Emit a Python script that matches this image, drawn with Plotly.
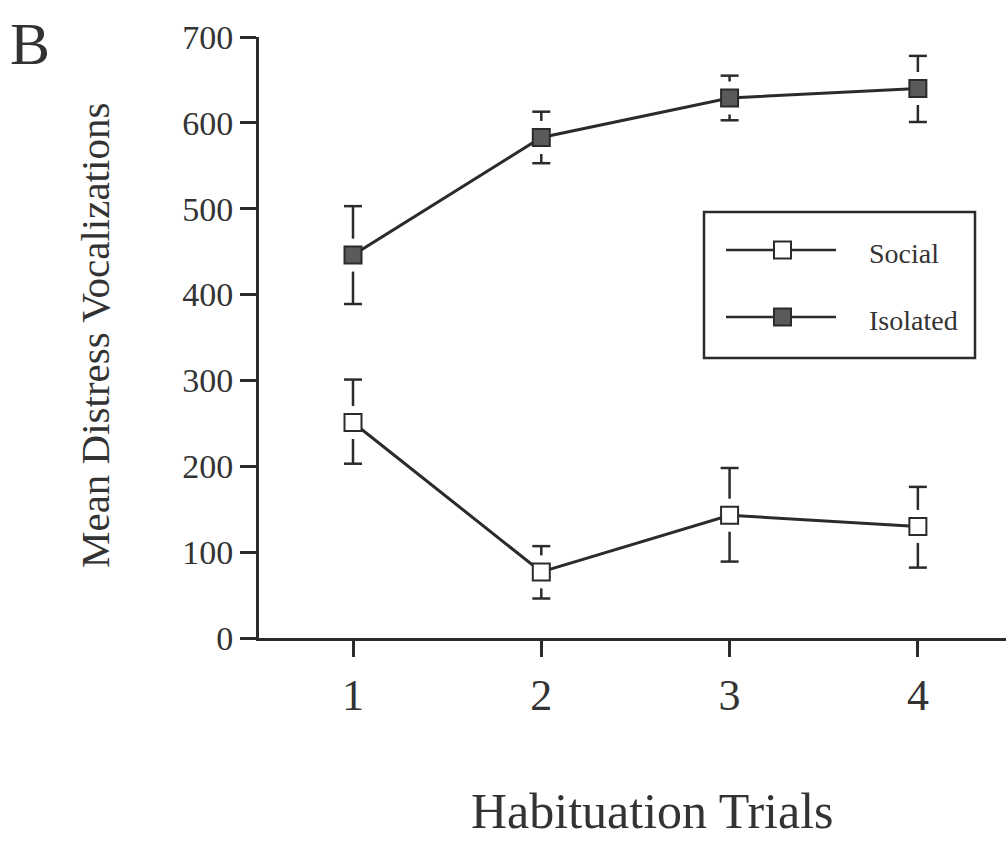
import plotly.graph_objects as go

# ---- data ----
trials = [1, 2, 3, 4]
x_tick_labels = ["1", "2", "3", "4"]
social_mean = [251, 77, 143, 130]
social_err_plus = [50, 30, 55, 46]
social_err_minus = [48, 31, 54, 48]
isolated_mean = [446, 583, 629, 640]
isolated_err_plus = [57, 30, 26, 38]
isolated_err_minus = [57, 30, 26, 39]
y_ticks = [0, 100, 200, 300, 400, 500, 600, 700]
series_names = ["Social", "Isolated"]

FONT = "Liberation Serif, Times New Roman, serif"
INK = "#2b2b2b"
TXT = "#333333"
W, H = 1006, 841
L, R, T, B = 259, 0, 37, 203
PW, PH = W - L - R, H - T - B
X_RANGE = [0.5008, 4.468]
Y_RANGE = [0, 700]
Y_PER_PX = (Y_RANGE[1] - Y_RANGE[0]) / PH
X_PER_PX = (X_RANGE[1] - X_RANGE[0]) / PW
GAP = 16.5 * Y_PER_PX        # white gap between marker centre and error stem
CAP = 9 * X_PER_PX           # half width of caps


def xp(px):
    return (px - L) / PW


def yp(py):
    return (H - B - py) / PH


fig = go.Figure()

series = [
    (social_mean, social_err_plus, social_err_minus, "white"),
    (isolated_mean, isolated_err_plus, isolated_err_minus, "#5a5a5a"),
]

# error bars with a gap around the marker
for mean, ep, em, _ in series:
    ex, ey = [], []
    for x, m, up, dn in zip(trials, mean, ep, em):
        top, bot = m + up, m - dn
        ex += [x, x, None, x - CAP, x + CAP, None,
               x, x, None, x - CAP, x + CAP, None]
        ey += [m + GAP, top, None, top, top, None,
               m - GAP, bot, None, bot, bot, None]
    fig.add_trace(go.Scatter(x=ex, y=ey, mode="lines",
                             line=dict(color=INK, width=2.5),
                             showlegend=False, hoverinfo="skip"))

# lines + markers
for (mean, ep, em, fill), name in zip(series, series_names):
    fig.add_trace(go.Scatter(
        x=trials, y=mean, mode="lines+markers", name=name,
        line=dict(color=INK, width=3),
        marker=dict(symbol="square", size=17, color=fill,
                    line=dict(color=INK, width=2)),
        showlegend=False))

# ---- legend drawn by hand ----
shapes = []
shapes.append(dict(type="rect", xref="paper", yref="paper",
                   x0=xp(704), x1=xp(975), y0=yp(212), y1=yp(358),
                   line=dict(color=INK, width=2.5), fillcolor="rgba(0,0,0,0)"))
annotations = []
for (mean, ep, em, fill), name, ly in zip(series, series_names, [250, 317]):
    shapes.append(dict(type="line", xref="paper", yref="paper",
                       x0=xp(726), x1=xp(836), y0=yp(ly), y1=yp(ly),
                       line=dict(color=INK, width=2.5)))
    shapes.append(dict(type="rect", xref="paper", yref="paper",
                       x0=xp(774), x1=xp(791), y0=yp(ly - 8.5), y1=yp(ly + 8.5),
                       line=dict(color=INK, width=2), fillcolor=fill))
    annotations.append(dict(text=name, xref="paper", yref="paper",
                            x=xp(867), y=yp(ly + 3), xanchor="left", yanchor="middle",
                            showarrow=False, font=dict(family=FONT, size=28, color=TXT)))

annotations.append(dict(text="Mean Distress Vocalizations", xref="paper", yref="paper",
                        x=xp(95), y=yp(336), xanchor="center", yanchor="middle",
                        textangle=-90, showarrow=False,
                        font=dict(family=FONT, size=41, color=TXT)))
annotations.append(dict(text="Habituation Trials", xref="paper", yref="paper",
                        x=xp(652), y=yp(811), xanchor="center", yanchor="middle",
                        showarrow=False, font=dict(family=FONT, size=50, color=TXT)))
annotations.append(dict(text="B", xref="paper", yref="paper",
                        x=xp(8), y=yp(44), xanchor="left", yanchor="middle",
                        showarrow=False, font=dict(family=FONT, size=60, color=TXT)))

fig.update_layout(
    width=W, height=H,
    margin=dict(l=L, r=R, t=T, b=B, pad=0),
    paper_bgcolor="white", plot_bgcolor="white",
    showlegend=False,
    shapes=shapes, annotations=annotations,
    xaxis=dict(range=X_RANGE, tickvals=trials, ticktext=x_tick_labels,
               showgrid=False, zeroline=False, showline=True, linecolor=INK,
               linewidth=3, ticks="outside", ticklen=16, tickwidth=2.5,
               tickcolor=INK, tickfont=dict(family=FONT, size=44, color=TXT)),
    yaxis=dict(range=Y_RANGE, tickvals=y_ticks,
               showgrid=False, zeroline=False, showline=True, linecolor=INK,
               linewidth=3, ticks="outside", ticklen=16, tickwidth=2.5,
               tickcolor=INK, tickfont=dict(family=FONT, size=34, color=TXT)),
)

fig.write_html("out.html")
